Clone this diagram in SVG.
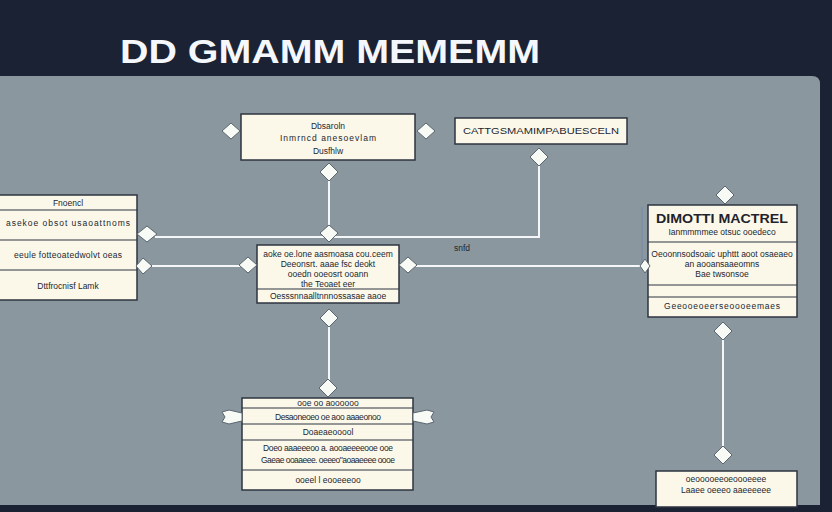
<svg xmlns="http://www.w3.org/2000/svg" width="832" height="512" viewBox="0 0 832 512">
<defs>
<style>
.box{fill:#fbf8ea;stroke:#2e3440;stroke-width:1.5}
.sep{stroke:#2e3440;stroke-width:1.2}
.t{font-family:"Liberation Sans",Arial,sans-serif;font-size:8.5px;fill:#22262e;text-anchor:middle}
.tb{font-family:"Liberation Sans",Arial,sans-serif;font-weight:bold;fill:#1f232b;text-anchor:middle}
.ln{stroke:#f4f6f8;stroke-width:2;fill:none}
.dm{fill:#f8faf6;stroke:#5c6670;stroke-width:1}
</style>
</defs>
<rect x="0" y="0" width="832" height="512" fill="#1b2234"/>
<text x="120" y="63" font-family="Liberation Sans,Arial,sans-serif" font-weight="bold" font-size="34" fill="#f4f7fb" textLength="420" lengthAdjust="spacingAndGlyphs">DD GMAMM MEMEMM</text>
<path d="M0,76 H812 Q820,76 820,84 V505 H0 Z" fill="#8a979f"/>

<g id="connectors">
<path class="ln" d="M329,180 V226"/>
<path class="ln" d="M155,237 H539 V165"/>
<path class="ln" d="M152,266 H240"/>
<path class="ln" d="M415,266 H642"/>
<path d="M642,207 V266" stroke="#7f8fa6" stroke-width="2"/>
<path class="ln" d="M329,326 V380"/>
<path class="ln" d="M723,339 V447"/>
<text x="462" y="251" class="t" font-size="8">snfd</text>
</g>

<g id="node-top">
<rect class="box" x="241" y="114" width="174" height="46"/>
<text class="t" x="328" y="129">Dbsaroln</text>
<text class="t" x="328" y="141" textLength="96" lengthAdjust="spacing">Inmrncd anesoevlam</text>
<text class="t" x="328" y="154">Dusfhlw</text>
<path class="dm" d="M231,123 L240,131 L231,139 L222,131 Z"/>
<path class="dm" d="M426,123 L435,131 L426,139 L417,131 Z"/>
<path class="dm" d="M329,163 L338,172 L329,181 L320,172 Z"/>
</g>

<g id="node-topright">
<rect class="box" x="455" y="118" width="172" height="26"/>
<text class="t" x="541" y="134" font-size="10" textLength="156" lengthAdjust="spacingAndGlyphs">CATTGSMAMIMPABUESCELN</text>
<path class="dm" d="M539,148 L548,157 L539,166 L530,157 Z"/>
</g>

<g id="node-left">
<rect class="box" x="-2" y="195" width="139" height="105"/>
<line class="sep" x1="0" y1="210" x2="137" y2="210"/>
<line class="sep" x1="0" y1="240" x2="137" y2="240"/>
<line class="sep" x1="0" y1="270" x2="137" y2="270"/>
<text class="t" x="68" y="206">Fnoencl</text>
<text class="t" x="68" y="226" textLength="124" lengthAdjust="spacing">asekoe obsot usaoattnoms</text>
<text class="t" x="68" y="258" textLength="108" lengthAdjust="spacing">eeule fotteoatedwolvt oeas</text>
<text class="t" x="68" y="289">Dttfrocnisf Lamk</text>
<path class="dm" d="M147,226 L157,234 L147,242 L137,234 Z"/>
<path class="dm" d="M143,258 L152,266 L143,274 L136,266 Z"/>
</g>

<g id="node-center">
<rect class="box" x="257" y="245" width="142" height="58"/>
<line class="sep" x1="257" y1="289" x2="399" y2="289"/>
<text class="t" x="328" y="257" font-size="7.5">aoke oe.lone aasmoasa cou.ceem</text>
<text class="t" x="328" y="267" font-size="7.5">Deeonsrt. aaae fsc deokt</text>
<text class="t" x="328" y="277" font-size="7.5">ooedn ooeosrt ooann</text>
<text class="t" x="328" y="287" font-size="7.5">the Teoaet eer</text>
<text class="t" x="328" y="299" font-size="7.5">Oesssnnaalltnnnossasae aaoe</text>
<path class="dm" d="M248,257 L257,265 L248,273 L239,265 Z"/>
<path class="dm" d="M408,257 L417,265 L408,273 L399,265 Z"/>
<path class="dm" d="M329,225 L338,233 L329,242 L320,233 Z"/>
<path class="dm" d="M329,309 L338,318 L329,327 L320,318 Z"/>
</g>

<g id="node-right">
<rect class="box" x="648" y="205" width="149" height="112"/>
<line class="sep" x1="648" y1="242" x2="797" y2="242"/>
<line class="sep" x1="648" y1="285" x2="797" y2="285"/>
<line class="sep" x1="648" y1="297" x2="797" y2="297"/>
<text class="tb" x="722" y="223" font-size="13" textLength="132" lengthAdjust="spacingAndGlyphs">DIMOTTI MACTREL</text>
<text class="t" x="722" y="235" font-size="7.5">Ianmmmmee otsuc ooedeco</text>
<text class="t" x="722" y="257" font-size="7.5">Oeoonnsodsoaic uphttt aoot osaeaeo</text>
<text class="t" x="722" y="267" font-size="7.5">an aooansaaeomns</text>
<text class="t" x="722" y="277" font-size="7.5">Bae twsonsoe</text>
<text class="t" x="722" y="309" font-size="8.5" textLength="116" lengthAdjust="spacing">Geeooeoeerseoooeemaes</text>
<path class="dm" d="M725,186 L734,195 L725,204 L716,195 Z"/>
<path class="dm" d="M645,259 L650,266 L645,273 L640,266 Z"/>
<path class="dm" d="M723,322 L732,331 L723,340 L714,331 Z"/>
</g>

<g id="node-bottom">
<rect class="box" x="242" y="398" width="171" height="92"/>
<line class="sep" x1="242" y1="408" x2="413" y2="408"/>
<line class="sep" x1="242" y1="424" x2="413" y2="424"/>
<line class="sep" x1="242" y1="440" x2="413" y2="440"/>
<line class="sep" x1="242" y1="470" x2="413" y2="470"/>
<text class="t" x="328" y="406" font-size="6">ooe oo aoooooo</text>
<text class="t" x="328" y="420" textLength="106" lengthAdjust="spacing">Desaoneoeo oe aoo aaaeonoo</text>
<text class="t" x="328" y="435">Doaeaeooool</text>
<text class="t" x="328" y="451" textLength="130" lengthAdjust="spacing">Doeo aaaeeeoo a. aooaeeeeooe ooe</text>
<text class="t" x="328" y="463" textLength="134" lengthAdjust="spacing">Gaeae ooaaeee. oeeeo"aoaaeeee oooe</text>
<text class="t" x="328" y="483">ooeel l eooeeeoo</text>
<path class="dm" d="M328,379 L337,388 L328,397 L319,388 Z"/>
<path class="dm" d="M222,412 L229,410 L242,413 L242,421 L229,424 L222,422 L225,417 Z"/>
<path class="dm" d="M434,412 L427,410 L413,413 L413,421 L427,424 L434,422 L431,417 Z"/>
</g>

<g id="node-bottomright">
<rect class="box" x="656" y="471" width="141" height="36"/>
<text class="t" x="726" y="482">oeooooeeoeoooeeee</text>
<text class="t" x="726" y="493">Laaee oeeeo aaeeeeee</text>
<path class="dm" d="M723,446 L732,455 L723,464 L714,455 Z"/>
</g>
</svg>
